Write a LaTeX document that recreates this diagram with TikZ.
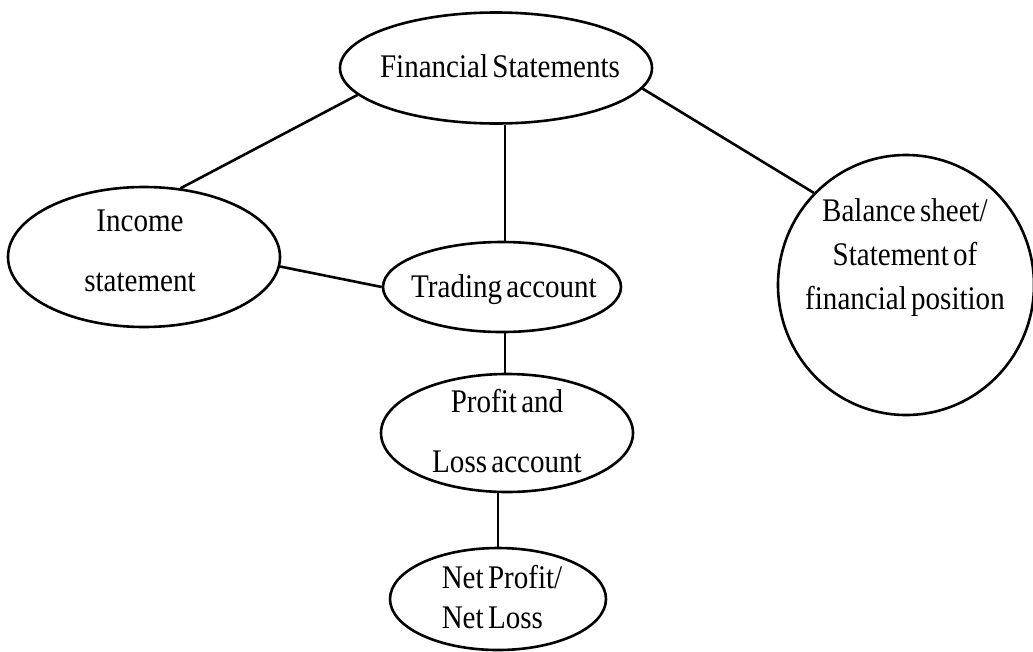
\documentclass[tikz,border=0pt]{standalone}
\usepackage{fontspec}
\setmainfont{Liberation Serif}[FakeStretch=0.88, WordSpace=0.6]
\usetikzlibrary{shapes.geometric}

\begin{document}
\begin{tikzpicture}[x=1pt, y=-1pt,
  bubble/.style={draw, line width=2.6pt, ellipse, inner sep=0pt},
  txt/.style={inner sep=0pt, align=center, font=\fontsize{33}{40}\selectfont},
  link/.style={line width=2.6pt}]
\useasboundingbox (0,0) rectangle (1033,651);

% outlines
\node[bubble, minimum width=312pt, minimum height=111pt] (fs)  at (496,68)  {};
\node[bubble, minimum width=272pt, minimum height=140pt] (inc) at (144,257) {};
\node[bubble, minimum width=238pt, minimum height=90pt]  (tr)  at (502,287) {};
\node[bubble, minimum width=256pt, minimum height=260pt] (bal) at (906,285) {};
\node[bubble, minimum width=252pt, minimum height=118pt] (pl)  at (507,433) {};
\node[bubble, minimum width=216pt, minimum height=102pt] (net) at (498,599) {};

% labels
\node[txt, anchor=base] (fs-t) at (500,77) {Financial Statements};
\node[txt, font=\fontsize{33}{60}\selectfont] (inc-t) at (140,251) {Income\\statement};
\node[txt, anchor=base] (tr-t) at (504,297) {Trading account};
\node[txt, font=\fontsize{33}{44}\selectfont] (bal-t) at (905,258) {Balance sheet/\\Statement of\\financial position};
\node[txt, font=\fontsize{33}{60}\selectfont] (pl-t) at (507,431) {Profit and\\Loss account};
\node[txt, align=left, font=\fontsize{33}{40}\selectfont] (net-t) at (502,597) {Net Profit/\\Net Loss};

% connectors
\draw[link] (fs.191) -- (inc.62);
\draw[link] (fs.352) -- (bal.135);
\draw[link] (inc.356) -- (tr.west);
\draw[link] ([xshift=3pt]tr.north) -- ([xshift=3pt]tr.north |- fs.south);
\draw[link] ([xshift=-2pt]pl.north) -- ([xshift=-2pt]pl.north |- tr.south);
\draw[link] (net.north) -- (net.north |- pl.south);
\end{tikzpicture}
\end{document}
